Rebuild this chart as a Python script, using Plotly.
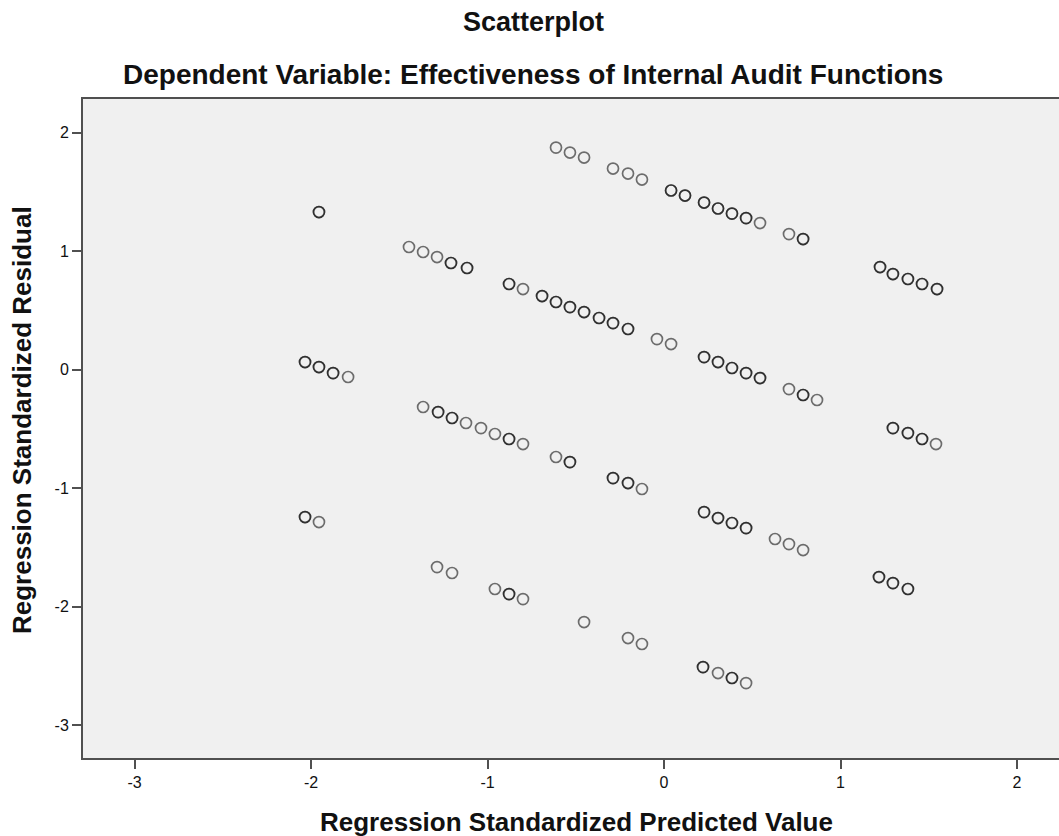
import plotly.graph_objects as go

# Regression standardized predicted value (x) and standardized residual (y);
# n_cases > 1 marks overlapping cases (drawn darker).
pred = [
    # band 1
    -0.612, -0.533, -0.453, -0.289, -0.204, -0.125, 0.040, 0.119, 0.227, 0.306,
    0.385, 0.465, 0.544, 0.708, 0.788, 1.224, 1.297, 1.382, 1.462, 1.547,
    # band 2
    -1.955, -1.445, -1.365, -1.286, -1.207, -1.116, -0.878, -0.799, -0.691, -0.612,
    -0.533, -0.453, -0.368, -0.289, -0.204, -0.040, 0.040, 0.227, 0.306, 0.385,
    0.465, 0.544, 0.708, 0.788, 0.867, 1.297, 1.382, 1.462, 1.541,
    # band 3
    -2.034, -1.955, -1.875, -1.790, -1.365, -1.280, -1.201, -1.122, -1.037, -0.958,
    -0.878, -0.799, -0.612, -0.533, -0.289, -0.204, -0.125, 0.227, 0.306, 0.385,
    0.465, 0.629, 0.708, 0.788, 1.218, 1.297, 1.382,
    # band 4
    -2.034, -1.955, -1.286, -1.201, -0.958, -0.878, -0.799, -0.453, -0.204, -0.125,
    0.221, 0.306, 0.385, 0.465,
]
resid = [
    1.873, 1.831, 1.789, 1.696, 1.654, 1.603, 1.511, 1.468, 1.409, 1.359,
    1.316, 1.278, 1.236, 1.143, 1.101, 0.865, 0.806, 0.764, 0.722, 0.679,
    1.329, 1.034, 0.992, 0.949, 0.899, 0.857, 0.722, 0.679, 0.620, 0.570,
    0.527, 0.485, 0.435, 0.392, 0.342, 0.257, 0.215, 0.105, 0.063, 0.013,
    -0.030, -0.072, -0.165, -0.215, -0.257, -0.494, -0.536, -0.586, -0.629,
    0.063, 0.021, -0.030, -0.063, -0.316, -0.359, -0.409, -0.451, -0.494, -0.544,
    -0.586, -0.629, -0.738, -0.781, -0.916, -0.958, -1.008, -1.203, -1.253, -1.295,
    -1.338, -1.430, -1.473, -1.523, -1.751, -1.802, -1.852,
    -1.245, -1.287, -1.667, -1.717, -1.852, -1.895, -1.937, -2.131, -2.266, -2.316,
    -2.511, -2.561, -2.603, -2.646,
]
n_cases = [
    1, 1, 1, 1, 1, 1, 2, 2, 2, 2,
    2, 2, 1, 1, 2, 2, 2, 2, 2, 2,
    2, 1, 1, 1, 2, 2, 2, 1, 2, 2,
    2, 2, 2, 2, 2, 1, 1, 2, 2, 2,
    2, 2, 1, 2, 1, 2, 2, 2, 1,
    2, 2, 2, 1, 1, 2, 2, 1, 1, 1,
    2, 1, 1, 2, 2, 2, 1, 2, 2, 2,
    2, 1, 1, 1, 2, 2, 2,
    2, 1, 1, 1, 1, 2, 1, 1, 1, 1,
    2, 1, 2, 1,
]

x_ticks = [-3, -2, -1, 0, 1, 2]
y_ticks = [-3, -2, -1, 0, 1, 2]

xs, ys = [], []
for x, y, n in zip(pred, resid, n_cases):
    for _ in range(n):
        xs.append(x)
        ys.append(y)

fig = go.Figure()
fig.add_trace(go.Scatter(
    x=xs, y=ys, mode="markers",
    marker=dict(symbol="circle-open", size=11, color="rgba(0,0,0,0.55)",
                line=dict(width=1.7, color="rgba(0,0,0,0.55)")),
    showlegend=False, hoverinfo="x+y",
))

W, H = 1059, 836
L, R, T, B = 83, 0, 99, 78
pw, ph = W - L - R, H - T - B

def px(xpix):
    return (xpix - L) / pw

def py(ypix):
    return (H - B - ypix) / ph

font = "Liberation Sans, Arial, sans-serif"
axis_common = dict(
    showgrid=False, zeroline=False, showline=True, linecolor="#505050",
    linewidth=2, ticks="outside", ticklen=9, tickwidth=1.5, tickcolor="#505050",
    tickfont=dict(family=font, size=16, color="#111111"),
)
fig.update_layout(
    width=W, height=H,
    margin=dict(l=L, r=R, t=T, b=B),
    paper_bgcolor="white", plot_bgcolor="#f0f0f0",
    xaxis=dict(range=[-3.292, 2.238], tickvals=x_ticks, ticktext=[str(v) for v in x_ticks],
               mirror=True, **axis_common),
    yaxis=dict(range=[-3.278, 2.283], tickvals=y_ticks, ticktext=[str(v) for v in y_ticks],
               mirror=False, **axis_common),
    annotations=[
        dict(text="<b>Scatterplot</b>", x=px(533), y=py(22), xref="paper", yref="paper",
             showarrow=False, xanchor="center", yanchor="middle",
             font=dict(family=font, size=27, color="#111111")),
        dict(text="<b>Dependent Variable: Effectiveness of Internal Audit Functions</b>",
             x=px(533), y=py(74), xref="paper", yref="paper",
             showarrow=False, xanchor="center", yanchor="middle",
             font=dict(family=font, size=28, color="#111111")),
        dict(text="<b>Regression Standardized Predicted Value</b>", x=px(576), y=py(822),
             xref="paper", yref="paper", showarrow=False, xanchor="center", yanchor="middle",
             font=dict(family=font, size=26, color="#111111")),
        dict(text="<b>Regression Standardized Residual</b>", x=px(22), y=py(420),
             xref="paper", yref="paper", showarrow=False, xanchor="center", yanchor="middle",
             textangle=-90, font=dict(family=font, size=26, color="#111111")),
    ],
)
fig.write_html(
    "out.html",
    config={"displayModeBar": False},
    post_script="document.body.style.margin='0';document.body.style.overflow='hidden';",
)
